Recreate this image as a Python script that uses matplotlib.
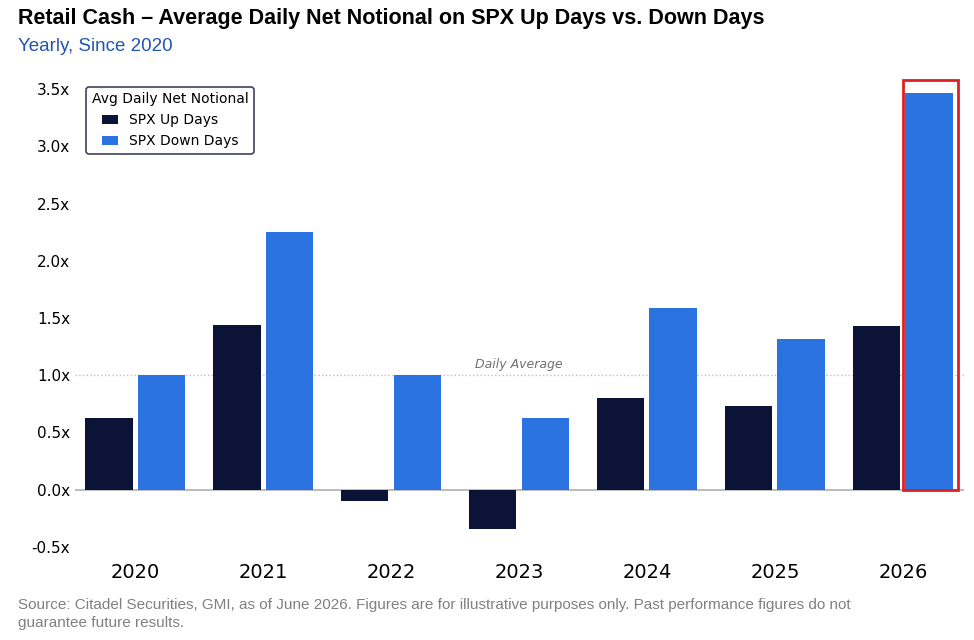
import matplotlib
matplotlib.use("Agg")
import matplotlib.pyplot as plt
import numpy as np
from matplotlib.patches import Rectangle

years = ["2020", "2021", "2022", "2023", "2024", "2025", "2026"]
up_days = [0.63, 1.44, -0.10, -0.34, 0.80, 0.73, 1.43]
down_days = [1.00, 2.25, 1.00, 0.63, 1.59, 1.32, 3.47]

navy = "#0b1437"
blue = "#2a73e0"

fig = plt.figure(figsize=(9.74, 6.4), dpi=100)
ax = fig.add_axes([0.077, 0.133, 0.913, 0.742])

x = np.arange(len(years))
w = 0.37
ax.bar(x - w / 2 - 0.02, up_days, w, color=navy, label="SPX Up Days")
ax.bar(x + w / 2 + 0.02, down_days, w, color=blue, label="SPX Down Days")

ax.axhline(0, color="#b0b0b0", lw=1.2, zorder=0)
ax.axhline(1.0, color="#c0c0c0", lw=1, ls=":", zorder=0)
ax.text(3.0, 1.04, "Daily Average", ha="center", va="bottom", fontsize=9,
        style="italic", color="#707070")

ax.add_patch(Rectangle((6 + 0.02 - 0.02, -0.0), w + 0.06, 3.58,
                       fill=False, edgecolor="#e02020", lw=2, clip_on=False))

ax.set_xlim(-0.47, 6.48)
ax.set_ylim(-0.57, 3.58)
ax.set_xticks(x)
ax.set_xticklabels(years, fontsize=14)
ax.set_yticks(np.arange(-0.5, 3.51, 0.5))
ax.set_yticklabels([f"{v:.1f}x" for v in np.arange(-0.5, 3.51, 0.5)], fontsize=11)
for s in ax.spines.values():
    s.set_visible(False)
ax.tick_params(length=0)
ax.tick_params(axis="x", pad=6)

leg = ax.legend(title="Avg Daily Net Notional", loc="upper left", fontsize=10,
                title_fontsize=10, frameon=True, fancybox=True,
                bbox_to_anchor=(0.005, 1.0), handlelength=1.2)
leg.get_frame().set_edgecolor(navy)
leg.get_frame().set_linewidth(1.2)

fig.text(0.018, 0.962, "Retail Cash \u2013 Average Daily Net Notional on SPX Up Days vs. Down Days",
         fontsize=15.5, fontweight="bold", family="Liberation Sans")
fig.text(0.018, 0.92, "Yearly, Since 2020", fontsize=13.5, color="#2255b0",
         family="Liberation Sans")
fig.text(0.018, 0.02, "Source: Citadel Securities, GMI, as of June 2026. Figures are for illustrative purposes only. Past performance figures do not\nguarantee future results.",
         fontsize=11, color="#808080", family="Liberation Sans", linespacing=1.4)

fig.savefig("out.png", dpi=100)
